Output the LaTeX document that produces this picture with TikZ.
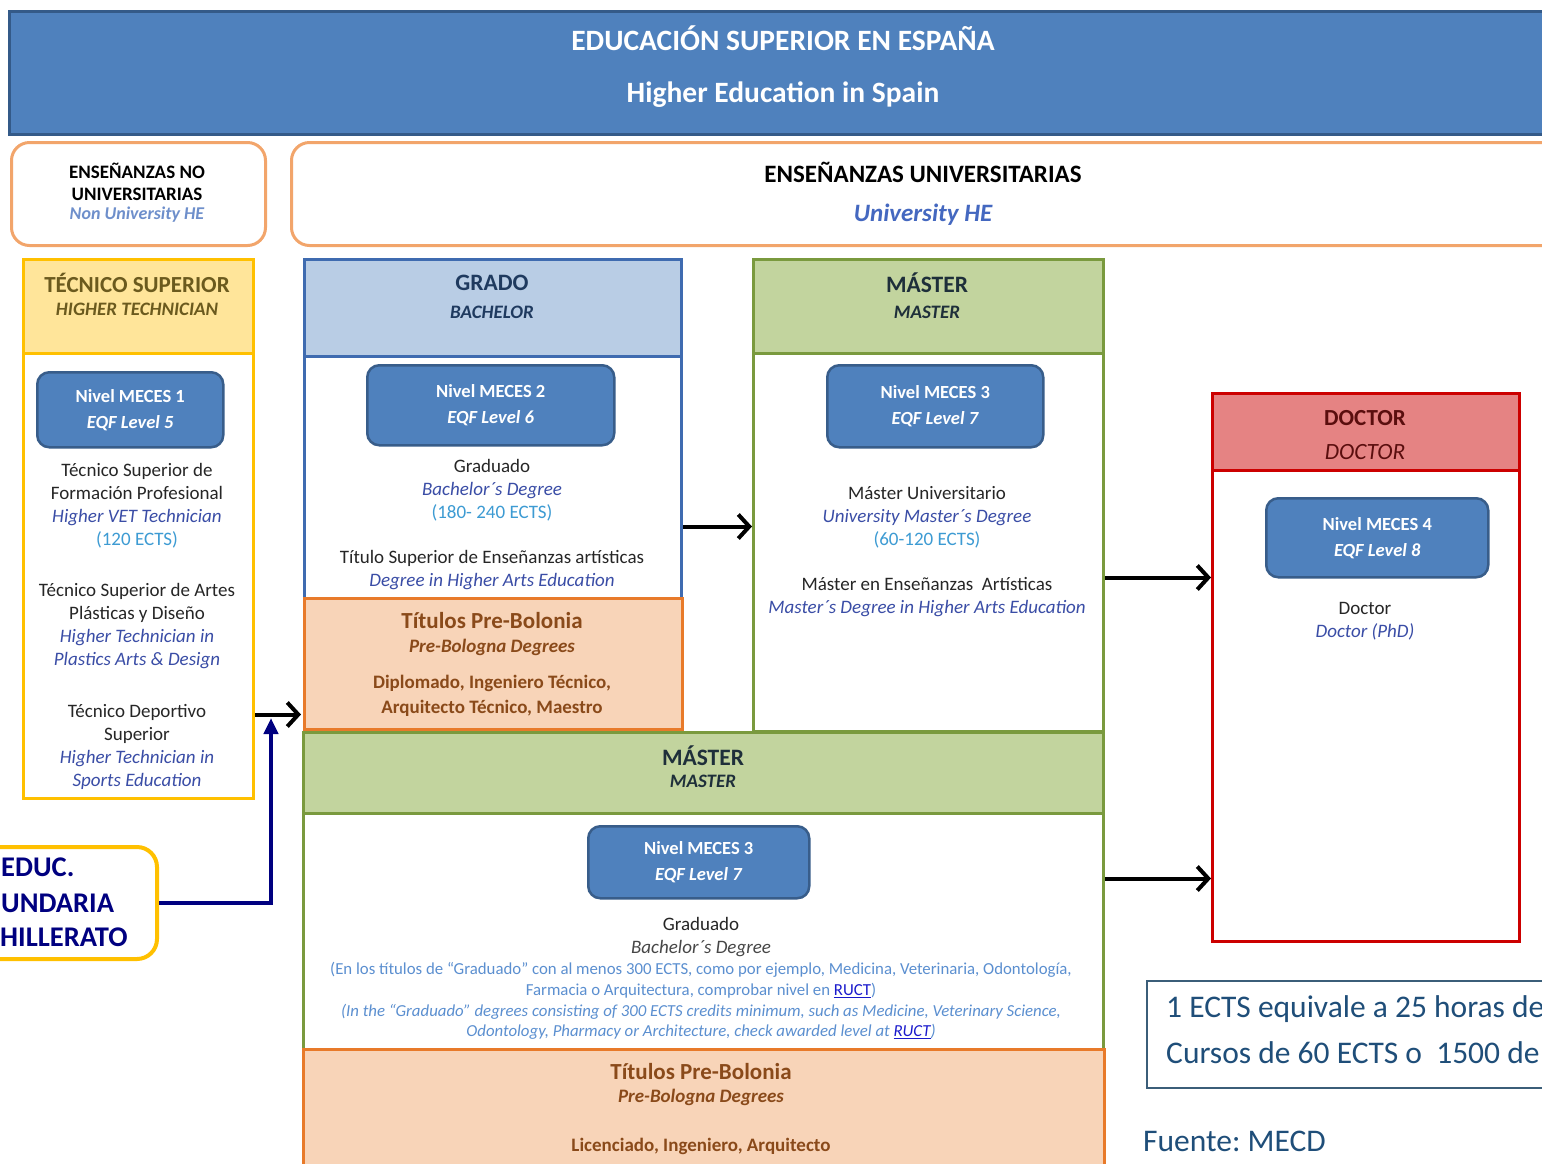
\documentclass[tikz,border=0pt]{standalone}
\usepackage{fontspec}
\setmainfont{Carlito}
\frenchspacing
\usetikzlibrary{arrows.meta,calc}
\newcommand\fsz[2]{\fontsize{#1}{#2}\selectfont}
\definecolor{titlefill}{HTML}{4F81BD}
\definecolor{titleline}{HTML}{345A88}
\definecolor{orangeline}{HTML}{F2A56B}
\definecolor{yelline}{HTML}{FFC000}
\definecolor{yelfill}{HTML}{FFE59A}
\definecolor{yeltext}{HTML}{6B5A1E}
\definecolor{bluefill}{HTML}{B9CDE5}
\definecolor{blueline}{HTML}{3F6BB0}
\definecolor{bluetext}{HTML}{1F3A5F}
\definecolor{greenfill}{HTML}{C2D49E}
\definecolor{greenline}{HTML}{7A9A3E}
\definecolor{greentext}{HTML}{1E2F3A}
\definecolor{redfill}{HTML}{E58383}
\definecolor{redline}{HTML}{CC0000}
\definecolor{redtext}{HTML}{5A0E0E}
\definecolor{pbfill}{HTML}{F8D4B8}
\definecolor{pbline}{HTML}{E87A2A}
\definecolor{pbtext}{HTML}{8A4A1A}
\definecolor{mecesfill}{HTML}{4F81BD}
\definecolor{mecesline}{HTML}{385D8A}
\definecolor{enblue}{HTML}{3A4DA6}
\definecolor{ectsblue}{HTML}{3D9BD3}
\definecolor{lightenblue}{HTML}{6E8FCB}
\definecolor{unienblue}{HTML}{4468C0}
\definecolor{navyc}{HTML}{000080}
\definecolor{bodytext}{HTML}{262626}
\definecolor{notetext}{HTML}{1F4E79}
\definecolor{noteline}{HTML}{3B5E79}
\definecolor{ructblue}{HTML}{1A1ACC}
\definecolor{smallblue}{HTML}{5B8FD0}
\tikzset{
  box/.style={draw, line width=3pt, anchor=north west, inner sep=0pt, fill=white},
  sz/.style 2 args={minimum width=#1pt, minimum height=#2pt},
  txt/.style={inner sep=0pt, align=center, text=bodytext, font=\fsz{19}{23}},
  mec/.style={draw=mecesline, fill=mecesfill, line width=2.5pt, rounded corners=12pt,
    anchor=north west, inner sep=0pt, text=white, align=center, font=\fsz{18.5}{26}\bfseries},
  hdr/.style={inner sep=0pt, font=\fsz{23.5}{26}\bfseries},
  hdrit/.style={inner sep=0pt, font=\fsz{19}{22}\bfseries\itshape},
  pbt/.style={inner sep=0pt, text=pbtext, font=\fsz{19}{22}\bfseries},
  arr/.style={line width=4pt, -{Straight Barb[length=11pt,width=24pt]}},
  navyarr/.style={draw=navyc, line width=4pt, -{Triangle[length=16pt,width=14pt]}},
  lefttxt/.style={inner sep=0pt, anchor=west},
}
\begin{document}
\begin{tikzpicture}[x=1pt,y=-1pt]
\useasboundingbox (0,0) rectangle (1542,1163);
\clip (0,0) rectangle (1542,1163);

% title
\node[box, draw=titleline, fill=titlefill, sz={1560}{123}] (title) at (8,10) {};
\node[txt, text=white, font=\fsz{29.5}{32}\bfseries] (t1) at (783,38) {EDUCACIÓN SUPERIOR EN ESPAÑA};
\node[txt, text=white, font=\fsz{29.5}{32}\bfseries] (t2) at (783,95) {Higher Education in Spain};

% non university / university headers
\node[box, draw=orangeline, rounded corners=18pt, sz={254}{103}] (nonuni) at (10,141) {};
\node[txt, text=black, font=\fsz{19}{22}\bfseries] (nonunit) at (137,182) {ENSEÑANZAS NO\\UNIVERSITARIAS};
\node[txt, text=lightenblue, font=\fsz{18}{20}\bfseries\itshape] (nonunien) at (137,215) {Non University HE};
\node[box, draw=orangeline, rounded corners=18pt, sz={1300}{103}] (uni) at (290,141) {};
\node[txt, text=black, font=\fsz{25}{28}\bfseries] (unit) at (923,172) {ENSEÑANZAS UNIVERSITARIAS};
\node[txt, text=unienblue, font=\fsz{25}{28}\bfseries\itshape] (unien) at (923,215) {University HE};

% Tecnico superior
\node[box, draw=yelline, sz={230}{539}] (tec) at (22,258) {};
\node[box, draw=yelline, fill=yelfill, sz={230}{94}] (tech) at (22,258) {};
\node[hdr, text=yeltext, font=\fsz{23}{26}\bfseries] (tect) at (137,283) {TÉCNICO SUPERIOR};
\node[hdrit, text=yeltext] (tecen) at (137,309) {HIGHER TECHNICIAN};
\node[mec, sz={186}{75}] (m1) at (36,371) {Nivel MECES 1\\\textit{EQF Level 5}};
\node[txt] (tec1) at (137,506) {Técnico Superior de\\Formación Profesional\\{\color{enblue}\itshape Higher VET Technician}\\{\color{ectsblue}(120 ECTS)}};
\node[txt] (tec2) at (137,626.5) {Técnico Superior de Artes\\Plásticas y Diseño\\{\color{enblue}\itshape Higher Technician in}\\{\color{enblue}\itshape Plastics Arts \& Design}};
\node[txt] (tec3) at (137,746.5) {Técnico Deportivo\\Superior\\{\color{enblue}\itshape Higher Technician in}\\{\color{enblue}\itshape Sports Education}};

% Grado
\node[box, draw=blueline, sz={377}{470}] (grado) at (303,258) {};
\node[box, draw=blueline, fill=bluefill, sz={377}{97}] (gradoh) at (303,258) {};
\node[hdr, text=bluetext] (gradot) at (492,283) {GRADO};
\node[hdrit, text=bluetext] (gradoen) at (492,312) {BACHELOR};
\node[mec, sz={247}{80}] (m2) at (366,364) {Nivel MECES 2\\\textit{EQF Level 6}};
\node[txt] (gr1) at (492,490) {Graduado\\{\color{enblue}\itshape Bachelor´s Degree}\\{\color{ectsblue}(180- 240 ECTS)}};
\node[txt] (gr2) at (492,570.5) {Título Superior de Enseñanzas artísticas\\{\color{enblue}\itshape Degree in Higher Arts Education}};

% Pre-Bolonia 1
\node[box, draw=pbline, fill=pbfill, sz={378}{131}] (pb1) at (303,597) {};
\node[pbt, font=\fsz{23}{26}\bfseries] (pb1t) at (492,621) {Títulos Pre-Bolonia};
\node[pbt, font=\fsz{19}{22}\bfseries\itshape] (pb1en) at (492,647) {Pre-Bologna Degrees};
\node[pbt] (pb1a) at (492,683) {Diplomado, Ingeniero Técnico,};
\node[pbt] (pb1b) at (492,708) {Arquitecto Técnico, Maestro};

% Master top
\node[box, draw=greenline, sz={350}{472}] (mtop) at (752,258) {};
\node[box, draw=greenline, fill=greenfill, sz={350}{94}] (mtoph) at (752,258) {};
\node[hdr, text=greentext] (mtopt) at (927,283) {MÁSTER};
\node[hdrit, text=greentext] (mtopen) at (927,312) {MASTER};
\node[mec, sz={216}{82}] (m3) at (826,364) {Nivel MECES 3\\\textit{EQF Level 7}};
\node[txt] (mt1) at (927,517) {Máster Universitario\\{\color{enblue}\itshape University Master´s Degree}\\{\color{ectsblue}(60-120 ECTS)}};
\node[txt] (mt2) at (927,597.5) {Máster en Enseñanzas~ Artísticas\\{\color{enblue}\itshape Master´s Degree in Higher Arts Education}};

% Master bottom
\node[box, draw=greenline, sz={800}{460}] (mbot) at (302,731) {};
\node[box, draw=greenline, fill=greenfill, sz={800}{81}] (mboth) at (302,731) {};
\node[hdr, text=greentext] (mbott) at (703,756) {MÁSTER};
\node[hdrit, text=greentext] (mboten) at (703,781) {MASTER};
\node[mec, sz={221}{72}] (m3b) at (587,825) {Nivel MECES 3\\\textit{EQF Level 7}};
\node[txt] (mb1) at (701,937) {Graduado\\{\color{bodytext!85}\itshape Bachelor´s Degree}};
\node[txt, text=smallblue, font=\fsz{16.8}{20.7}] (mb2) at (701,1001) {(En los títulos de “Graduado” con al menos 300 ECTS, como por ejemplo, Medicina, Veterinaria, Odontología,\\Farmacia o Arquitectura, comprobar nivel en {\color{ructblue}\underline{RUCT}})\\{\itshape (In the “Graduado” degrees consisting of 300 ECTS credits minimum, such as Medicine, Veterinary Science,}\\{\itshape Odontology, Pharmacy or Architecture, check awarded level at {\color{ructblue}\underline{RUCT}})}};

% Pre-Bolonia 2
\node[box, draw=pbline, fill=pbfill, sz={801}{140}] (pb2) at (302,1048) {};
\node[pbt, font=\fsz{23}{26}\bfseries] (pb2t) at (701,1071) {Títulos Pre-Bolonia};
\node[pbt, font=\fsz{19}{22}\bfseries\itshape] (pb2en) at (701,1097) {Pre-Bologna Degrees};
\node[pbt] (pb2a) at (701,1146) {Licenciado, Ingeniero, Arquitecto};

% Doctor
\node[box, draw=redline, sz={307}{548}] (doc) at (1211,392) {};
\node[box, draw=redline, fill=redfill, sz={307}{77}] (doch) at (1211,392) {};
\node[hdr, text=redtext, font=\fsz{23}{26}\bfseries] (doct) at (1365,418) {DOCTOR};
\node[inner sep=0pt, text=redtext, font=\fsz{23.3}{26}\itshape] (docen) at (1365,452) {DOCTOR};
\node[mec, sz={222}{79}] (m4) at (1265,497) {Nivel MECES 4\\\textit{EQF Level 8}};
\node[txt] (dc1) at (1365,621.5) {Doctor\\{\color{enblue}\itshape Doctor (PhD)}};

% Bachillerato
\node[box, draw=yelline, line width=4pt, rounded corners=20pt, sz={185}{112}] (bach) at (-30,845) {};
\node[lefttxt, text=navyc, font=\fsz{28.5}{30}\bfseries] (b1) at (1,867) {EDUC.};
\node[lefttxt, text=navyc, font=\fsz{28.5}{30}\bfseries] (b2) at (1,903) {UNDARIA};
\node[lefttxt, text=navyc, font=\fsz{28.5}{30}\bfseries] (b3) at (0,937) {HILLERATO};

% ECTS note
\node[box, draw=noteline, line width=2pt, sz={420}{107}] (note) at (1146,980) {};
\node[lefttxt, text=notetext, font=\fsz{31.5}{34}] (n1) at (1166,1009) {1 ECTS equivale a 25 horas de};
\node[lefttxt, text=notetext, font=\fsz{31.5}{34}] (n2) at (1166,1053) {Cursos de 60 ECTS o~ 1500 de};
\node[lefttxt, text=notetext, font=\fsz{31.5}{34}] (src) at (1143,1141) {Fuente: MECD};

% connectors
\draw[arr] ([yshift=-32pt]grado.east) -- ([yshift=-32pt]grado.east -| mtop.west);
\draw[arr] ([yshift=-82pt]mtop.east) -- ([yshift=-82pt]mtop.east -| doc.west);
\draw[arr] ([yshift=84pt]mbot.east) -- ([yshift=84pt]mbot.east -| doc.west);
\draw[arr] ([yshift=-185.5pt]tec.east) -- ([yshift=-185.5pt,xshift=-2pt]tec.east -| pb1.west);
\coordinate (bachtip) at (271,718);
\draw[navyarr] (bach.east) -| (bachtip);
\end{tikzpicture}
\end{document}
